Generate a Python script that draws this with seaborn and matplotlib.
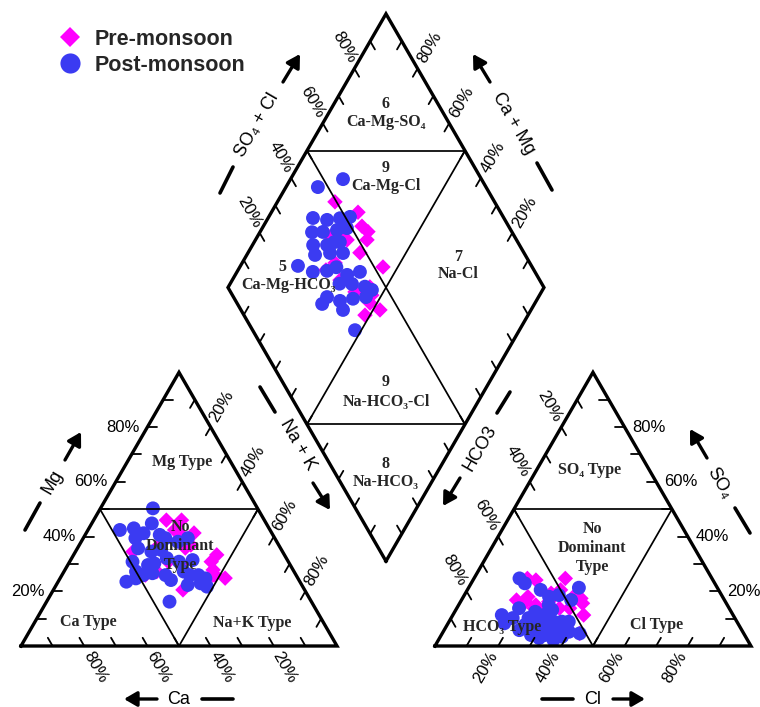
import numpy as np
import pandas as pd
import matplotlib
matplotlib.use("Agg")
import matplotlib.pyplot as plt
import seaborn as sns
from matplotlib.lines import Line2D

# ---- major-ion composition, % of total cations / anions (meq/L) ----
post_ca = [47.5, 33.1, 42.8, 36.2, 50.0, 48.4, 44.1, 49.3, 41.5, 38.1, 45.1, 35.8,
           42.7, 54.9, 34.6, 37.8, 40.6, 51.3, 45.1, 40.5, 44.9, 30.0, 30.9, 27.5,
           34.9, 36.1, 31.7, 41.3, 33.6, 29.3, 30.3, 45.0, 34.6, 31.3]
post_mg = [42.4, 50.3, 43.0, 44.8, 27.2, 25.9, 39.4, 30.8, 34.5, 35.1, 35.7, 40.6,
           30.2, 23.5, 39.4, 32.1, 41.2, 24.7, 26.6, 24.1, 16.2, 31.4, 25.9, 39.4,
           27.2, 22.3, 22.9, 25.9, 25.9, 24.7, 21.7, 29.6, 30.8, 38.1]
post_nak = [10.1, 16.6, 14.2, 19.0, 22.8, 25.7, 16.5, 19.9, 24.0, 26.8, 19.2, 23.6,
            27.1, 21.6, 26.0, 30.1, 18.2, 24.0, 28.3, 35.4, 38.9, 38.6, 43.2, 33.1,
            37.9, 41.6, 45.4, 32.8, 40.5, 46.0, 48.0, 25.4, 34.6, 30.6]
post_hco3 = [53.2, 43.8, 60.4, 56.3, 51.9, 48.5, 63.3, 59.8, 55.0, 51.5, 65.3, 60.9,
             56.3, 66.5, 61.4, 57.3, 73.9, 70.3, 65.6, 60.0, 55.4, 60.1, 56.5, 70.4,
             67.0, 62.5, 58.1, 73.2, 67.7, 54.9, 67.6, 58.0, 64.0, 62.0]
post_so4 = [8.9, 21.3, 7.7, 20.5, 4.6, 16.8, 4.0, 5.2, 5.2, 18.6, 10.2, 24.7,
            13.2, 13.8, 2.2, 5.2, 8.3, 10.2, 2.9, 11.3, 8.9, 22.9, 15.0, 5.8,
            7.7, 8.8, 3.4, 11.3, 7.7, 18.0, 4.0, 8.9, 6.5, 12.5]
post_cl = [37.9, 34.9, 31.9, 23.2, 43.5, 34.7, 32.7, 35.0, 39.8, 29.9, 24.5, 14.4,
           30.5, 19.7, 36.4, 37.5, 17.8, 19.5, 31.5, 28.7, 35.7, 17.0, 28.5, 23.8,
           25.3, 28.7, 38.5, 15.5, 24.6, 27.1, 28.4, 33.1, 29.5, 25.5]

pre_ca = [47.3, 30.2, 37.8, 30.1, 27.8, 29.3, 34.3, 43.4, 21.4, 24.6,
          24.4, 23.0, 25.7, 47.7, 38.0, 38.5, 26.3, 26.2, 31.0, 25.3]
pre_mg = [34.5, 42.4, 36.9, 35.8, 36.9, 41.7, 30.3, 27.2, 33.3, 41.3,
          30.8, 24.8, 25.9, 25.9, 30.8, 20.5, 25.9, 46.0, 46.0, 27.8]
pre_nak = [18.2, 27.4, 25.3, 34.1, 35.3, 29.0, 35.4, 29.4, 45.3, 34.1,
           44.8, 52.2, 48.4, 26.4, 31.2, 41.0, 47.8, 27.8, 23.0, 46.9]
pre_hco3 = [50.5, 45.1, 50.0, 45.5, 47.3, 53.6, 51.9, 61.6, 47.2, 63.2,
            55.0, 56.0, 61.7, 53.7, 46.4, 60.6, 57.9, 65.8, 58.4, 55.9]
pre_so4 = [13.8, 17.4, 20.5, 15.6, 11.3, 19.3, 4.6, 18.0, 18.0, 16.2,
           7.1, 24.1, 13.8, 13.8, 24.7, 15.0, 13.8, 16.8, 24.7, 16.2]
pre_cl = [35.7, 37.5, 29.5, 38.9, 41.4, 27.1, 43.5, 20.4, 34.8, 20.6,
          37.9, 19.9, 24.5, 32.5, 28.9, 24.4, 28.3, 17.4, 16.9, 27.9]

seasons = ["Pre-monsoon", "Post-monsoon"]
season_colors = {"Pre-monsoon": "#ff00ff", "Post-monsoon": "#3b3bf2"}
season_markers = {"Pre-monsoon": "D", "Post-monsoon": "o"}
season_sizes = {"Pre-monsoon": 62, "Post-monsoon": 100}

tick_values = [20, 40, 60, 80]
minor_ticks = list(range(10, 100, 10))

# ---- Piper geometry (triangle side = 1) ----
H = np.sqrt(3) / 2
GAP = 0.31
AX0 = 1 + GAP                   # left corner of the anion triangle
BX, BY = 1 + GAP / 2, GAP * H   # bottom corner of the diamond
DL = (BX - 0.5, BY + H)
DT = (BX, BY + 2 * H)
DR = (BX + 0.5, BY + H)
DB = (BX, BY)


def cation_xy(ca, mg, nak):
    ca, mg, nak = (np.asarray(v, float) for v in (ca, mg, nak))
    tot = ca + mg + nak
    mg, nak = mg / tot, nak / tot
    return nak + mg / 2, mg * H


def anion_xy(hco3, so4, cl):
    hco3, so4, cl = (np.asarray(v, float) for v in (hco3, so4, cl))
    tot = hco3 + so4 + cl
    so4, cl = so4 / tot, cl / tot
    return AX0 + cl + so4 / 2, so4 * H


def diamond_xy(ca, mg, nak, hco3, so4, cl):
    ca, mg, nak, hco3, so4, cl = (np.asarray(v, float) for v in (ca, mg, nak, hco3, so4, cl))
    c = (ca + mg) / (ca + mg + nak)
    a = (so4 + cl) / (hco3 + so4 + cl)
    return BX + (a - c) / 2, BY + (a + c) * H


frames = []
for season, comp in [("Pre-monsoon", (pre_ca, pre_mg, pre_nak, pre_hco3, pre_so4, pre_cl)),
                     ("Post-monsoon", (post_ca, post_mg, post_nak, post_hco3, post_so4, post_cl))]:
    for x, y in (cation_xy(*comp[:3]), anion_xy(*comp[3:]), diamond_xy(*comp)):
        frames.append(pd.DataFrame({"x": x, "y": y, "season": season}))
df = pd.concat(frames, ignore_index=True)

# ---- figure ----
sns.set_style("white")
plt.rcParams["font.family"] = ["Liberation Sans", "DejaVu Sans"]

W, HP = 760, 707
SCALE = 316.0           # pixels per unit side
X0, Y0 = 21.0, 646.0    # pixel position of the Ca corner

fig = plt.figure(figsize=(W / 100, HP / 100), dpi=100)
ax = fig.add_axes([0, 0, 1, 1])
ax.set_xlim(-X0 / SCALE, (W - X0) / SCALE)
ax.set_ylim(-(HP - Y0) / SCALE, Y0 / SCALE)
ax.axis("off")


def px(x, y):
    return ((x - X0) / SCALE, (Y0 - y) / SCALE)


def shift(p, dx, dy):
    return (p[0] + dx / SCALE, p[1] - dy / SCALE)


sns.scatterplot(data=df, x="x", y="y", hue="season", style="season", size="season",
                hue_order=seasons, style_order=seasons, size_order=seasons,
                palette=season_colors, markers=season_markers, sizes=season_sizes,
                linewidth=0, legend=False, ax=ax, zorder=3)

OUT_LW, IN_LW = 2.4, 1.25


def polyline(pts, lw, closed=False):
    pts = list(pts) + ([pts[0]] if closed else [])
    xs, ys = zip(*pts)
    ax.plot(xs, ys, color="black", lw=lw, solid_joinstyle="miter",
            solid_capstyle="projecting", zorder=4)


# outlines
polyline([(0, 0), (1, 0), (0.5, H)], OUT_LW, closed=True)
polyline([(AX0, 0), (AX0 + 1, 0), (AX0 + 0.5, H)], OUT_LW, closed=True)
polyline([DB, DR, DT, DL], OUT_LW, closed=True)

# dividing lines of the water-type fields
for ox in (0, AX0):
    polyline([(ox + 0.25, H / 2), (ox + 0.75, H / 2)], IN_LW)
    polyline([(ox + 0.25, H / 2), (ox + 0.5, 0), (ox + 0.75, H / 2)], IN_LW)
polyline([(BX - 0.25, BY + 1.5 * H), (BX + 0.25, BY + 1.5 * H)], IN_LW)
polyline([(BX - 0.25, BY + 0.5 * H), (BX + 0.25, BY + 0.5 * H)], IN_LW)
polyline([(BX - 0.25, BY + 1.5 * H), (BX + 0.25, BY + 0.5 * H)], IN_LW)
polyline([(BX + 0.25, BY + 1.5 * H), (BX - 0.25, BY + 0.5 * H)], IN_LW)

# tick marks every 10 %
TICK = 0.03


def edge_ticks(p0, p1, d):
    p0, p1, d = np.array(p0), np.array(p1), np.array(d, float)
    d = d / np.hypot(*d) * TICK
    for v in minor_ticks:
        p = p0 + (p1 - p0) * v / 100
        ax.plot([p[0], p[0] + d[0]], [p[1], p[1] + d[1]], color="black", lw=1.3, zorder=4)


edge_ticks((1, 0), (0, 0), (-0.5, H))              # Ca
edge_ticks((0, 0), (0.5, H), (1, 0))               # Mg
edge_ticks((0.5, H), (1, 0), (-0.5, -H))           # Na + K
edge_ticks((AX0, 0), (AX0 + 1, 0), (0.5, H))       # Cl
edge_ticks((AX0 + 1, 0), (AX0 + 0.5, H), (-1, 0))  # SO4
edge_ticks((AX0 + 0.5, H), (AX0, 0), (0.5, -H))    # HCO3
edge_ticks(DL, DT, (0.5, -H))
edge_ticks(DR, DT, (-0.5, -H))
edge_ticks(DB, DL, (0.5, H))
edge_ticks(DB, DR, (-0.5, H))

# percentage labels
PCT = dict(fontsize=12, color="black", zorder=5)


def along(p0, p1, v):
    return (p0[0] + (p1[0] - p0[0]) * v / 100, p0[1] + (p1[1] - p0[1]) * v / 100)


for v in tick_values:
    lab = f"{v}%"
    # cation triangle
    ax.text(*shift(along((0, 0), (0.5, H), v), -8, 0), lab, ha="right", va="center", **PCT)
    ax.text(*shift(along((0.5, H), (1, 0), v), 11, -21), lab, ha="center", va="center",
            rotation=60, rotation_mode="anchor", **PCT)
    ax.text(*shift(along((1, 0), (0, 0), v), 11, 21), lab, ha="center", va="center",
            rotation=-60, rotation_mode="anchor", **PCT)
    # anion triangle
    ax.text(*shift(along((AX0 + 1, 0), (AX0 + 0.5, H), v), 8, 0), lab, ha="left", va="center", **PCT)
    ax.text(*shift(along((AX0 + 0.5, H), (AX0, 0), v), -12, -21), lab, ha="center", va="center",
            rotation=-60, rotation_mode="anchor", **PCT)
    ax.text(*shift(along((AX0, 0), (AX0 + 1, 0), v), -13, 21), lab, ha="center", va="center",
            rotation=60, rotation_mode="anchor", **PCT)
    # diamond
    ax.text(*shift(along(DL, DT, v), -10, -21), lab, ha="center", va="center",
            rotation=-60, rotation_mode="anchor", **PCT)
    ax.text(*shift(along(DR, DT, v), 12, -21), lab, ha="center", va="center",
            rotation=60, rotation_mode="anchor", **PCT)

# axis names with arrows
NAME = dict(fontsize=13, color="black", ha="center", va="center", rotation_mode="anchor", zorder=5)


def arrow(tail, head):
    ax.annotate("", xy=px(*head), xytext=px(*tail),
                arrowprops=dict(arrowstyle="-|>,head_length=0.55,head_width=0.32", lw=2.4,
                                color="black", shrinkA=0, shrinkB=0, mutation_scale=14),
                zorder=5)


def dash(p, q):
    a, b = px(*p), px(*q)
    ax.plot([a[0], b[0]], [a[1], b[1]], color="black", lw=2.6, zorder=5)


dash((25, 530), (40, 503)); ax.text(*px(52, 482), "Mg", rotation=60, **NAME); arrow((65, 460), (81, 432))
dash((260, 387), (275, 412)); ax.text(*px(298, 445), "Na + K", rotation=-60, **NAME); arrow((313, 483), (330, 510))
arrow((157, 699), (124, 699)); ax.text(*px(179, 699), "Ca", **NAME); dash((202, 699), (233, 699))
dash((220, 193), (233, 167)); ax.text(*px(257, 125), "SO₄ + Cl", rotation=60, **NAME); arrow((283, 82), (300, 54))
arrow((490, 82), (473, 54)); ax.text(*px(513, 123), "Ca + Mg", rotation=-60, **NAME); dash((537, 163), (552, 190))
dash((510, 392), (497, 413)); ax.text(*px(480, 448), "HCO3", rotation=60, **NAME); arrow((460, 478), (443, 506))
arrow((707, 458), (690, 429)); ax.text(*px(719, 483), "SO₄", rotation=-60, **NAME); dash((735, 508), (750, 533))
dash((542, 699), (573, 699)); ax.text(*px(593, 699), "Cl", **NAME); arrow((613, 699), (645, 699))

# water-type field labels
FIELD = dict(fontsize=11.5, fontweight="bold", color="#262626", ha="center", va="center",
             family=["Liberation Serif", "DejaVu Serif"], zorder=6, linespacing=1.25)
field_labels = [
    (386, 104, "6"), (386, 122, "Ca-Mg-SO₄"),
    (386, 168, "9"), (386, 186, "Ca-Mg-Cl"),
    (282, 267, "5"), (288, 285, "Ca-Mg-HCO₃"),
    (458, 257, "7"), (458, 274, "Na-Cl"),
    (386, 382, "9"), (386, 402, "Na-HCO₃-Cl"),
    (386, 464, "8"), (386, 482, "Na-HCO₃"),
    (182, 462, "Mg Type"), (180, 546, "No\nDominant\nType"),
    (88, 622, "Ca Type"), (252, 623, "Na+K Type"),
    (590, 470, "SO₄ Type"), (592, 548, "No\nDominant\nType"),
    (502, 627, "HCO₃ Type"), (657, 625, "Cl Type"),
]
for x, y, s in field_labels:
    ax.text(*px(x, y), s, **FIELD)

# legend
handles = [Line2D([], [], marker=season_markers[s], ls="", color=season_colors[s],
                  markeredgewidth=0, markersize=10.5 if s == "Pre-monsoon" else 14.5, label=s)
           for s in seasons]
ax.legend(handles=handles, loc="upper left", bbox_to_anchor=(57 / W, 1 - 29 / HP),
          frameon=False, borderpad=0, borderaxespad=0, handlelength=1.2,
          handletextpad=0.55, labelspacing=0.22,
          prop={"family": "Liberation Sans", "weight": "bold", "size": 15.5})

fig.savefig("out.png", dpi=100)
